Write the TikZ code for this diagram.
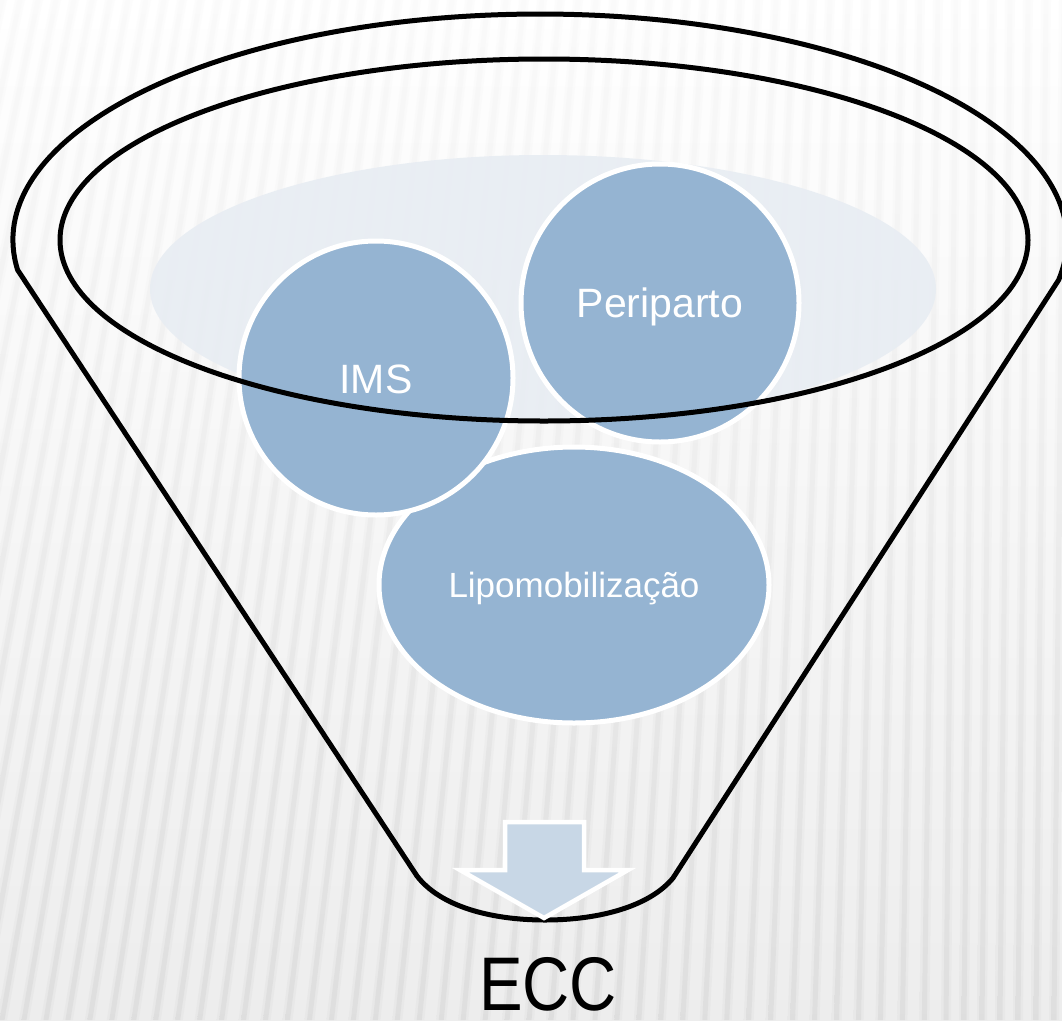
\documentclass[tikz,border=0pt]{standalone}
\usepackage{fontspec}
\setmainfont{Liberation Sans}
\usetikzlibrary{shapes.geometric}
\definecolor{bubble}{RGB}{149,180,210}
\definecolor{pale}{RGB}{232,237,243}
\definecolor{arrowfill}{RGB}{200,215,230}
\tikzset{
  bubblestyle/.style={fill=bubble, draw=white, line width=5pt, inner sep=0pt},
  funnelline/.style={draw=black, line width=5pt, line join=round},
  label/.style={text=white, anchor=base, inner sep=0pt},
}
\begin{document}
\begin{tikzpicture}[x=1pt,y=-1pt]
\useasboundingbox (0,0) rectangle (1062,1020);
\clip (0,0) rectangle (1062,1020);
% background
\shade[top color=white, bottom color=black!7] (0,0) rectangle (1062,1020);
\foreach \i in {0,...,68}{
  \pgfmathsetmacro\xt{-70+18*\i}
  \pgfmathsetmacro\dd{max(10,220*(1-\xt/1000))}
  \pgfmathsetmacro\xb{\xt-\dd}
  \shade[top color=black!1, bottom color=black!10, opacity=0.7] (\xt-5,0) -- (\xt+5,0) -- (\xb+5,1020) -- (\xb-5,1020) -- cycle;
  \shade[top color=black!2, bottom color=black!14, opacity=0.7] (\xt-2.5,0) -- (\xt+2.5,0) -- (\xb+2.5,1020) -- (\xb-2.5,1020) -- cycle;
}
% pale ellipse
\fill[pale, opacity=0.9] (543,289) ellipse [x radius=393, y radius=134];
% bubbles
\node[bubblestyle, ellipse, minimum width=390pt, minimum height=276pt] (lipo) at (574,585) {};
\node[bubblestyle, circle, minimum size=274pt] (ims) at (376,378) {};
\node[bubblestyle, circle, minimum size=278pt] (peri) at (660,303) {};
\node[label, font=\fontsize{35}{40}\selectfont] (lipotext) at (574,597) {Lipomobilização};
\node[label, font=\fontsize{41}{46}\selectfont] (imstext) at (376,393) {IMS};
\node[label, font=\fontsize{41}{46}\selectfont] (peritext) at (660,317) {Periparto};
% funnel
\draw[funnelline] (17.6,269.9) arc[start angle=172.4, end angle=370.2, x radius=527, y radius=226]
  -- (673,878) .. controls (650,906) and (600,920) .. (545,920)
  .. controls (490,920) and (440,906) .. (417,876) -- cycle;
\draw[funnelline] (544,240) ellipse [x radius=484, y radius=181];
% arrow
\draw[fill=arrowfill, draw=white, line width=4.5pt, line join=miter]
  (505,822) -- (584,822) -- (584,870) -- (628,870) -- (544,918) -- (460,870) -- (505,870) -- cycle;
\node[anchor=base, inner sep=0pt, font=\fontsize{76}{80}\selectfont] (ecc) at (548,1010) {\scalebox{0.86}[1]{ECC}};
\end{tikzpicture}
\end{document}
